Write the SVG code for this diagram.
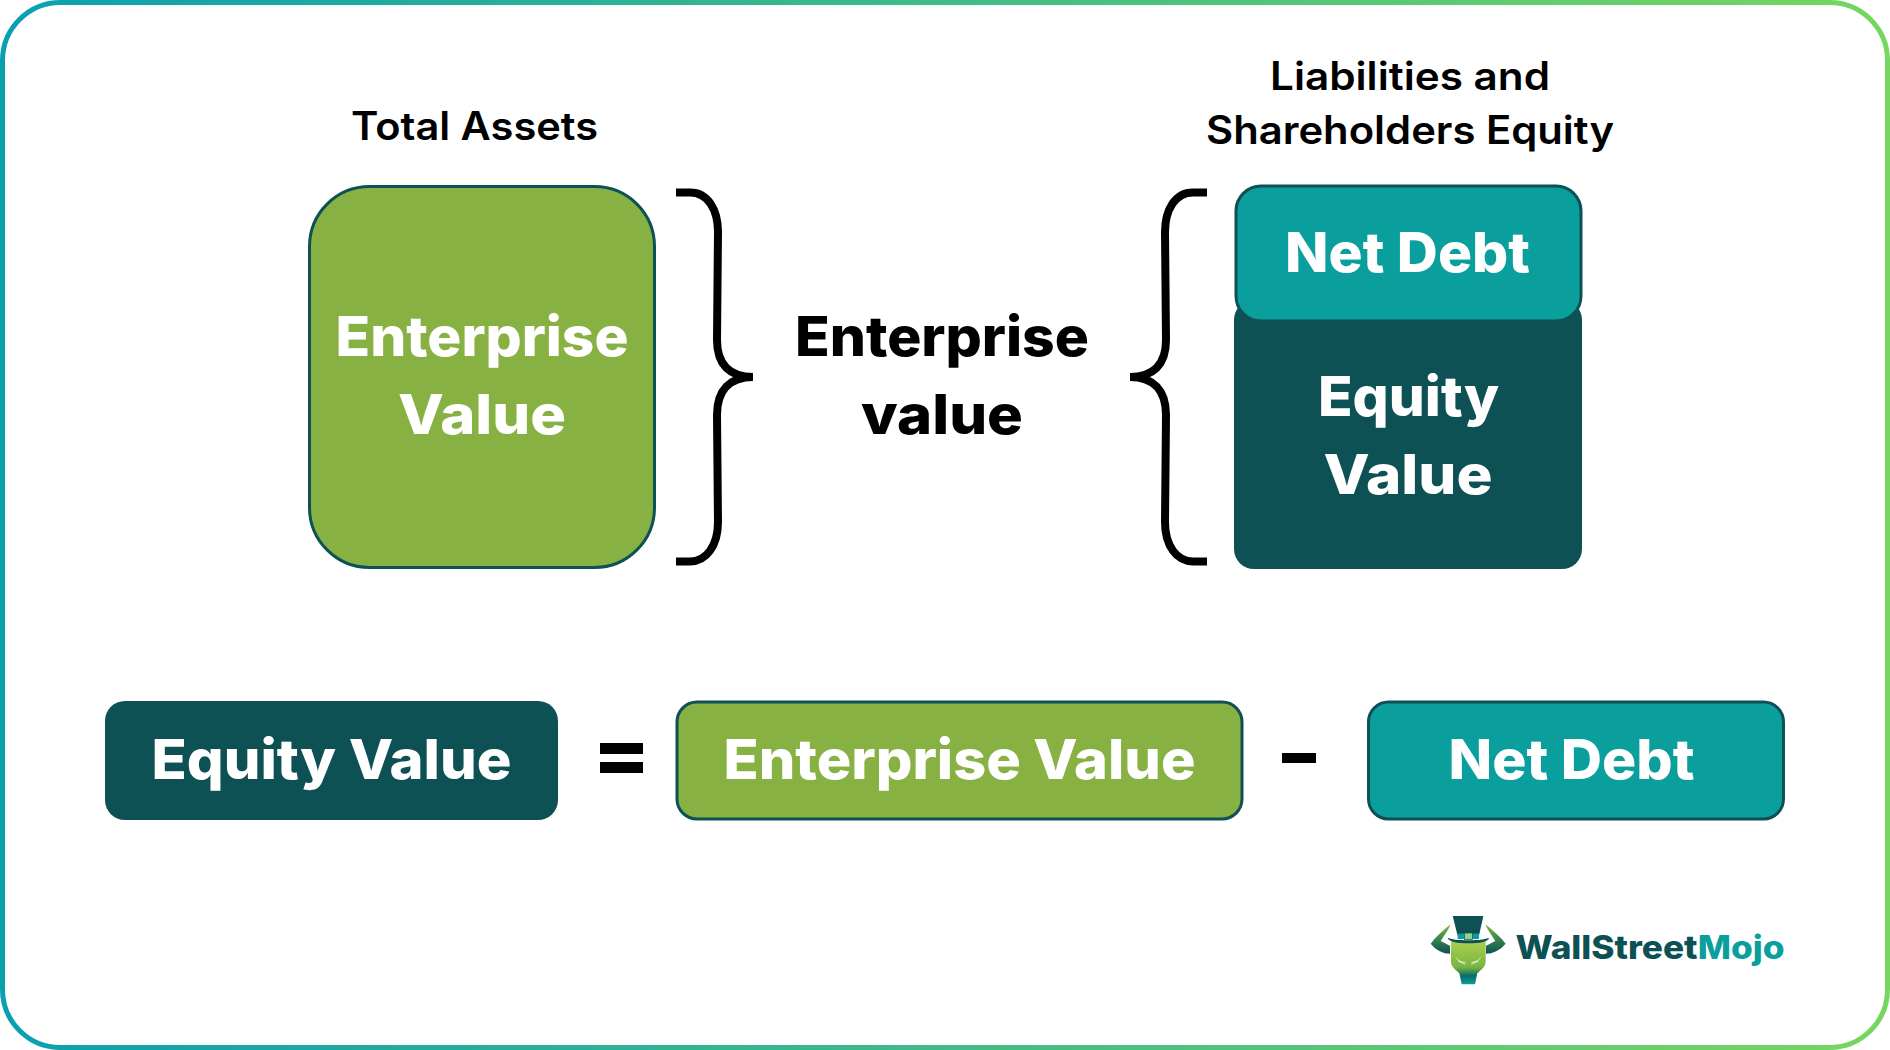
<svg xmlns="http://www.w3.org/2000/svg" width="1890" height="1050" viewBox="0 0 1890 1050">
<style>
text{font-family:"Inter","Open Sans","Liberation Sans",sans-serif;font-weight:800;text-anchor:start}
.w{fill:#fff;font-size:55px}
.k{fill:#000;font-size:55px}
.h{fill:#000;font-size:39px;font-weight:600}
.brace{fill:none;stroke:#000;stroke-width:8}
.ln{stroke:#0E5155;stroke-width:3}
.green{fill:#88B143}.teal{fill:#0A9F9D}.dark{fill:#0E5155}
</style>
<defs>
<linearGradient id="frame" x1="0" y1="0" x2="1" y2="0"><stop offset="0" stop-color="#0AA0B0"/><stop offset="1" stop-color="#76D75F"/></linearGradient>
<linearGradient id="horn" x1="0" y1="0" x2="0" y2="1"><stop offset="0" stop-color="#7DBB3E"/><stop offset="0.6" stop-color="#2F7A4F"/><stop offset="1" stop-color="#0E5155"/></linearGradient>
<linearGradient id="face" x1="0" y1="0" x2="0" y2="1"><stop offset="0" stop-color="#A8D04E"/><stop offset="0.6" stop-color="#7AB542"/><stop offset="0.8" stop-color="#0E6B66"/><stop offset="1" stop-color="#0A9F9D"/></linearGradient>
</defs>
<rect id="frame-border" x="2.5" y="2.5" width="1885" height="1045" rx="58" fill="#fff" stroke="url(#frame)" stroke-width="5"/>

<g id="connectors">
<path class="brace" d="M676 192.5H690C708 192.5 718 210 718 232L717 340C717 365 730 377 753 377C730 377 717 390 717 415L718 522C718 546 706 561.5 690 561.5H676"/>
<path class="brace" d="M1207 192.5H1193C1175 192.5 1165 210 1165 232L1166 340C1166 365 1153 377 1130 377C1153 377 1166 390 1166 415L1165 522C1165 546 1177 561.5 1193 561.5H1207"/>
</g>

<g id="label-total-assets"><text class="h" x="351" y="140" textLength="247" lengthAdjust="spacingAndGlyphs">Total Assets</text></g>
<g id="label-liabilities">
<text class="h" x="1270" y="90" textLength="280" lengthAdjust="spacingAndGlyphs">Liabilities and</text>
<text class="h" x="1206" y="144" textLength="408" lengthAdjust="spacingAndGlyphs">Shareholders Equity</text>
</g>

<g id="node-enterprise-value">
<rect class="green ln" x="309.5" y="186.5" width="345" height="381" rx="60"/>
<text class="w" x="335.5" y="356" textLength="293" lengthAdjust="spacingAndGlyphs">Enterprise</text>
<text class="w" x="398" y="434" textLength="168" lengthAdjust="spacingAndGlyphs">Value</text>
</g>

<g id="label-enterprise-value">
<text class="k" x="795" y="356" textLength="294" lengthAdjust="spacingAndGlyphs">Enterprise</text>
<text class="k" x="861" y="434" textLength="162" lengthAdjust="spacingAndGlyphs">value</text>
</g>

<g id="node-equity-value">
<rect class="dark" x="1234" y="300" width="348" height="269" rx="20"/>
<text class="w" x="1318" y="416" textLength="181" lengthAdjust="spacingAndGlyphs">Equity</text>
<text class="w" x="1323.5" y="494" textLength="169" lengthAdjust="spacingAndGlyphs">Value</text>
</g>
<g id="node-net-debt">
<rect class="teal ln" x="1236" y="186" width="345" height="135" rx="25"/>
<text class="w" x="1285" y="272" textLength="245" lengthAdjust="spacingAndGlyphs">Net Debt</text>
</g>

<g id="formula-equity-value">
<rect class="dark" x="105" y="701" width="453" height="119" rx="20"/>
<text class="w" x="151.5" y="779" textLength="360" lengthAdjust="spacingAndGlyphs">Equity Value</text>
</g>
<g id="formula-equals"><rect x="600" y="743" width="43" height="11"/><rect x="600" y="762" width="43" height="11"/></g>
<g id="formula-enterprise-value">
<rect class="green ln" x="677" y="702" width="565" height="117" rx="20"/>
<text class="w" x="723.5" y="779" textLength="472" lengthAdjust="spacingAndGlyphs">Enterprise Value</text>
</g>
<g id="formula-minus"><rect x="1282" y="753" width="34" height="10"/></g>
<g id="formula-net-debt">
<rect class="teal ln" x="1368.5" y="702" width="415" height="117" rx="20"/>
<text class="w" x="1448.5" y="779" textLength="246" lengthAdjust="spacingAndGlyphs">Net Debt</text>
</g>

<g id="logo">
<g transform="translate(1420 905) scale(.3333)">
<path fill="url(#horn)" d="M92 58C84 78 72 92 62 108L90 122V146C70 146 48 136 32 116C48 94 70 76 92 58Z"/>
<path fill="url(#horn)" d="M196 58C204 78 216 92 226 108L198 122V146C218 146 240 136 257 116C240 94 218 76 196 58Z"/>
<path fill="url(#face)" d="M93 108H197V170C197 186 180 196 172 205L165 238H125L118 205C110 196 93 186 93 170Z"/>
<path fill="none" stroke="#F2F8E4" stroke-width="2.5" d="M108 158C116 168 126 172 136 172M182 158C174 168 164 172 154 172M114 168L136 178M176 168L154 178"/>
<path class="dark" d="M98 33H190L177 92H113Z"/>
<path class="dark" d="M83 98C100 108 190 108 207 98C206 110 180 115 145 115C110 115 86 110 83 98Z"/>
<rect class="teal" x="113" y="86" width="64" height="16"/>
<rect x="133" y="84" width="24" height="20" fill="#8FD28A" stroke="#0E5155" stroke-width="2"/>
</g>
<text x="1515.5" y="959" font-size="33" textLength="269" lengthAdjust="spacingAndGlyphs"><tspan fill="#0E5155">WallStreet</tspan><tspan fill="#0A9F9D">Mojo</tspan></text>
</g>
</svg>
